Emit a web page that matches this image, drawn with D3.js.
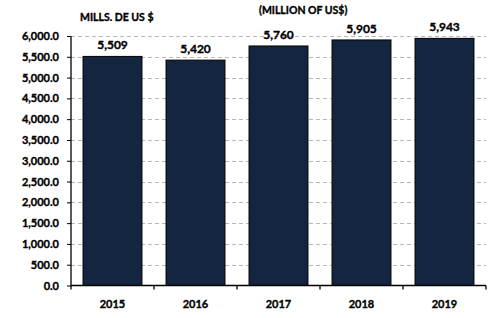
<!DOCTYPE html>
<html>
<head>
<meta charset="utf-8">
<script src="https://cdn.jsdelivr.net/npm/d3@7"></script>
<style>
  body { margin: 0; background: #fff; }
  text { font-family: Lato, "Open Sans", sans-serif; font-weight: bold; fill: #000; stroke: #000; stroke-width: 0.35px; }
</style>
</head>
<body>
<svg id="chart"></svg>
<script>
let years = ["2015", "2016", "2017", "2018", "2019"];
let values = [5509, 5420, 5760, 5905, 5943];
let yTicks = d3.range(0, 6001, 500);

let svgWidth = 489;
let svgHeight = 318;

let margin = { left: 71, right: 3, top: 36, bottom: 32.5 };

let svg = d3.select("#chart")
    .attr("width", svgWidth)
    .attr("height", svgHeight);

let x = d3.scaleBand()
    .domain(years)
    .range([margin.left, svgWidth - margin.right])
    .paddingInner(0.29)
    .paddingOuter(0.145);

let y = d3.scaleLinear()
    .domain([0, 6000])
    .range([svgHeight - margin.bottom, margin.top]);

// dashed grid lines
svg.append("g")
    .selectAll("line")
    .data(yTicks.filter(d => d > 0))
    .enter()
    .append("line")
    .attr("x1", margin.left)
    .attr("x2", svgWidth - margin.right)
    .attr("y1", d => Math.round(y(d)) + 0.5)
    .attr("y2", d => Math.round(y(d)) + 0.5)
    .attr("stroke", "#b8b8b8")
    .attr("stroke-width", 1)
    .attr("stroke-dasharray", "4,3");

// bars
svg.append("g")
    .selectAll("rect")
    .data(values)
    .enter()
    .append("rect")
    .attr("x", (d, i) => x(years[i]))
    .attr("y", d => y(d))
    .attr("width", x.bandwidth())
    .attr("height", d => y(0) - y(d))
    .attr("fill", "#13253f")
    .attr("stroke", "#000")
    .attr("stroke-width", 1);

// value labels
svg.append("g")
    .selectAll("text")
    .data(values)
    .enter()
    .append("text")
    .attr("x", (d, i) => x(years[i]) + x.bandwidth() / 2)
    .attr("y", d => y(d) - 7)
    .attr("text-anchor", "middle")
    .attr("font-size", "12px")
    .text(d => d3.format(",")(d));

// y axis
let yAxis = d3.axisLeft(y)
    .tickValues(yTicks)
    .tickSize(4)
    .tickPadding(8)
    .tickFormat(d3.format(",.1f"));

let gy = svg.append("g")
    .attr("transform", "translate(" + margin.left + ",0)")
    .call(yAxis);
gy.select(".domain").attr("stroke", "#000").attr("stroke-width", 1.3).attr("d", "M0," + y(6000) + "V" + y(0));
gy.selectAll("text").attr("font-size", "11px").style("font-family", "Lato, sans-serif").style("font-weight", "bold");

// x axis with ticks at category boundaries
let gx = svg.append("g")
    .attr("transform", "translate(0," + y(0) + ")");
gx.append("line")
    .attr("x1", margin.left)
    .attr("x2", svgWidth - margin.right)
    .attr("stroke", "#000")
    .attr("stroke-width", 1.3);
let bounds = d3.range(years.length + 1).map(i => margin.left + i * (svgWidth - margin.right - margin.left) / years.length);
gx.selectAll(".tk")
    .data(bounds)
    .enter()
    .append("line")
    .attr("class", "tk")
    .attr("x1", d => d)
    .attr("x2", d => d)
    .attr("y1", 0)
    .attr("y2", 4)
    .attr("stroke", "#000")
    .attr("stroke-width", 1.3);
gx.selectAll(".lbl")
    .data(years)
    .enter()
    .append("text")
    .attr("class", "lbl")
    .attr("x", d => x(d) + x.bandwidth() / 2)
    .attr("y", 22)
    .attr("text-anchor", "middle")
    .attr("font-size", "11px")
    .text(d => d);

// titles
svg.append("text")
    .attr("x", 80)
    .attr("y", 21)
    .attr("font-size", "10.5px")
    .text("MILLS. DE US $");

svg.append("text")
    .attr("x", 259)
    .attr("y", 14)
    .attr("font-size", "10.5px")
    .text("(MILLION OF US$)");
</script>
</body>
</html>
